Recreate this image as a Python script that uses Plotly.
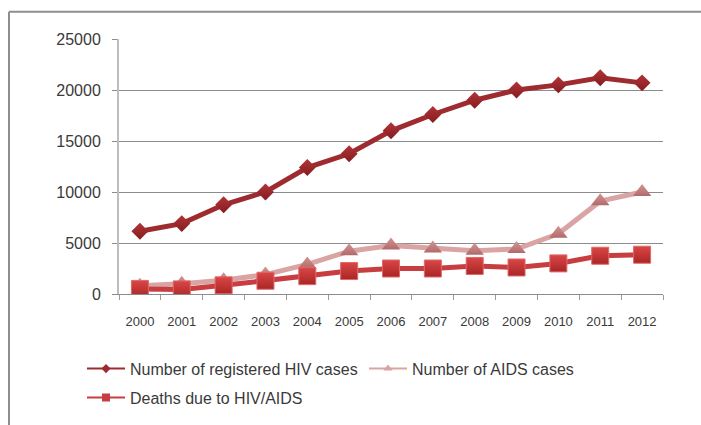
import plotly.graph_objects as go

# Annual HIV/AIDS figures
years = ["2000", "2001", "2002", "2003", "2004", "2005", "2006",
         "2007", "2008", "2009", "2010", "2011", "2012"]
hiv_cases = [6150, 6900, 8750, 10000, 12400, 13750, 16000,
             17600, 19000, 20000, 20500, 21200, 20700]
aids_cases = [800, 1000, 1350, 1900, 2900, 4200, 4750,
              4450, 4250, 4400, 5900, 9100, 10000]
deaths = [500, 450, 850, 1300, 1750, 2250, 2500,
          2500, 2750, 2600, 3000, 3750, 3850]

names = ["Number of registered HIV cases", "Number of AIDS cases",
         "Deaths due to HIV/AIDS"]

HIV_LINE, HIV_TOP, HIV_BOT = "#9E2B2F", "#B03438", "#861C20"
AIDS_LINE, AIDS_TOP, AIDS_BOT = "#DAA4A4", "#D49494", "#B26A6A"
DTH_LINE, DTH_TOP, DTH_BOT, DTH_EDGE = "#C83E40", "#DA4646", "#AA2626", "#E06868"

FONT = "Liberation Sans, Arial, sans-serif"
TXT = "#3a3a3a"

fig = go.Figure()

# main series (legend handled by the small legend-only traces below)
fig.add_trace(go.Scatter(
    x=years, y=hiv_cases, mode="lines+markers", showlegend=False,
    line=dict(color=HIV_LINE, width=5),
    marker=dict(symbol="diamond", size=13, color=HIV_TOP,
                gradient=dict(type="vertical", color=HIV_BOT),
                line=dict(width=0)),
))
fig.add_trace(go.Scatter(
    x=years, y=aids_cases, mode="lines+markers", showlegend=False,
    line=dict(color=AIDS_LINE, width=5),
    marker=dict(symbol="triangle-up", size=16, color=AIDS_TOP,
                gradient=dict(type="vertical", color=AIDS_BOT),
                line=dict(width=0)),
))
fig.add_trace(go.Scatter(
    x=years, y=deaths, mode="lines+markers", showlegend=False,
    line=dict(color=DTH_LINE, width=5),
    marker=dict(symbol="square", size=17, color=DTH_TOP,
                gradient=dict(type="vertical", color=DTH_BOT),
                line=dict(width=1, color=DTH_EDGE)),
))

# legend entries with slim symbols
legend_specs = [
    (names[0], HIV_LINE, "diamond", 7, "legend"),
    (names[1], AIDS_LINE, "triangle-up", 8, "legend2"),
    (names[2], DTH_LINE, "square", 8, "legend3"),
]
for name, col, sym, sz, lg in legend_specs:
    fig.add_trace(go.Scatter(
        x=[None], y=[None], mode="lines+markers", name=name, legend=lg,
        line=dict(color=col, width=2),
        marker=dict(symbol=sym, size=sz, color=col, line=dict(width=0)),
    ))

# plot area pixel geometry helpers
L, T, W, H = 119, 39.3, 544, 256
def px(x):
    return (x - L) / W
def py(y):
    return (T + H - y) / H

leg_common = dict(orientation="h", xanchor="left", yanchor="middle",
                  bgcolor="rgba(0,0,0,0)", borderwidth=0,
                  font=dict(family=FONT, size=16, color=TXT),
                  itemwidth=38)

fig.update_layout(
    width=701, height=425,
    margin=dict(l=L, r=701 - L - W, t=T, b=425 - T - H),
    paper_bgcolor="white", plot_bgcolor="white",
    xaxis=dict(
        type="category", range=[-0.5, 12.5], tickson="boundaries",
        ticks="outside", ticklen=5, tickcolor="#9a9a9a", tickwidth=1,
        showgrid=False, showline=True, linecolor="#8c8c8c", linewidth=1,
        tickfont=dict(family=FONT, size=13, color=TXT),
        zeroline=False, ticklabelstandoff=15,
    ),
    yaxis=dict(
        range=[0, 25000], tickvals=[0, 5000, 10000, 15000, 20000, 25000],
        ticktext=["0", "5000", "10000", "15000", "20000", "25000"],
        ticks="outside", ticklen=5, tickcolor="#8c8c8c", tickwidth=1,
        showgrid=True, gridcolor="#8c8c8c", gridwidth=1,
        showline=True, linecolor="#bdbdbd", linewidth=2,
        zeroline=False, ticklabelstandoff=8,
        tickfont=dict(family=FONT, size=16, color=TXT),
    ),
    legend=dict(x=px(82), y=py(369), **leg_common),
    legend2=dict(x=px(364), y=py(369), **leg_common),
    legend3=dict(x=px(82), y=py(398), **leg_common),
    shapes=[
        # chart frame (left and top edges)
        dict(type="line", xref="paper", yref="paper",
             x0=px(9), x1=px(9), y0=py(12), y1=py(440),
             line=dict(color="#8e8e8e", width=2)),
        dict(type="line", xref="paper", yref="paper",
             x0=px(9), x1=px(720), y0=py(12), y1=py(12),
             line=dict(color="#8e8e8e", width=2)),
    ],
)

fig.write_html("out.html")
